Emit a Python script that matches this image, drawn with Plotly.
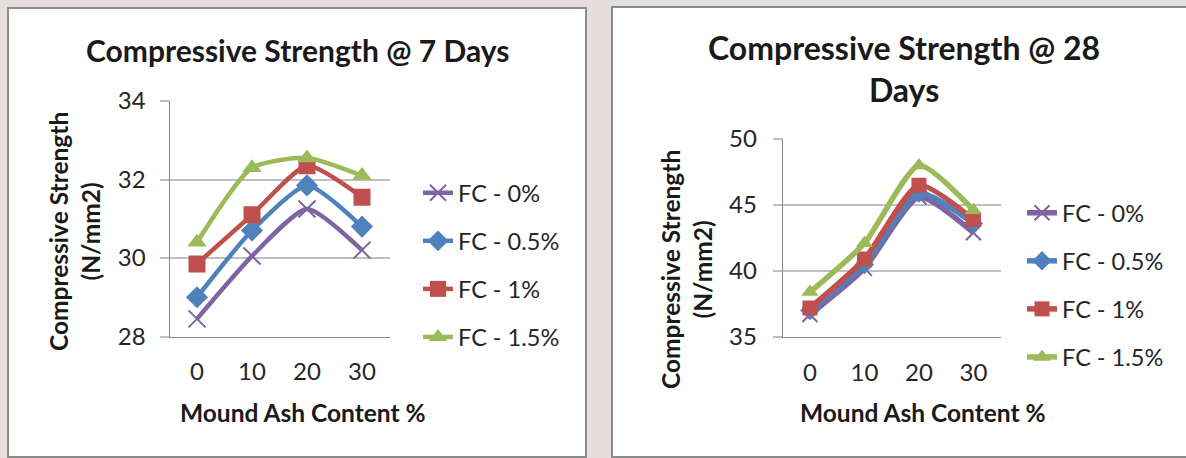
import plotly.graph_objects as go

# Mound ash content (%) on the category axis
ash_content = [0, 10, 20, 30]
series_names = ["FC - 0%", "FC - 0.5%", "FC - 1%", "FC - 1.5%"]

# Compressive strength (N/mm2) after 7 days of curing
strength_7d_fc0 = [28.45, 30.05, 31.25, 30.2]
strength_7d_fc05 = [29.0, 30.7, 31.85, 30.8]
strength_7d_fc1 = [29.85, 31.1, 32.35, 31.55]
strength_7d_fc15 = [30.4, 32.3, 32.55, 32.1]

# Compressive strength (N/mm2) after 28 days of curing
strength_28d_fc0 = [36.7, 40.2, 45.6, 42.9]
strength_28d_fc05 = [37.0, 40.5, 45.9, 43.6]
strength_28d_fc1 = [37.2, 40.9, 46.5, 43.9]
strength_28d_fc15 = [38.4, 42.1, 48.0, 44.6]

y_ticks_7d = [28, 30, 32, 34]
y_ticks_28d = [35, 40, 45, 50]

W, H = 1186, 458
FONT = "Lato"
colors = ["#8064A2", "#4F81BD", "#C0504D", "#9BBB59"]
symbols = ["x-thin", "diamond", "square", "triangle-up"]


def px_x(v):
    return v / W


def px_y(v):
    return 1 - v / H


fig = go.Figure()

data_7d = [strength_7d_fc0, strength_7d_fc05, strength_7d_fc1, strength_7d_fc15]
data_28d = [strength_28d_fc0, strength_28d_fc05, strength_28d_fc1, strength_28d_fc15]

for chart, (data, xa, ya, leg, msize, lw) in enumerate([
    (data_7d, "x", "y", "legend", 17, 4.5),
    (data_28d, "x2", "y2", "legend2", 15, 5.5),
]):
    for i, (name, vals) in enumerate(zip(series_names, data)):
        is_x = symbols[i] == "x-thin"
        fig.add_trace(go.Scatter(
            x=ash_content, y=vals, name=name,
            xaxis=xa, yaxis=ya, legend=leg,
            legendgroup=f"{leg}-{i}",
            mode="lines+markers",
            line=dict(color=colors[i], width=lw, shape="spline", smoothing=0.6),
            marker=dict(
                symbol=symbols[i], size=msize, color=colors[i],
                line=dict(color=colors[i], width=2 if is_x else 0),
            ),
        ))

tick_font = dict(family=FONT, size=24, color="#262626")

axis_common = dict(
    range=[-5, 35], tickvals=ash_content, showgrid=False, zeroline=False,
    showline=True, linecolor="#868686", linewidth=1, ticks="",
    tickfont=tick_font, ticklabelstandoff=14, fixedrange=True,
)
yaxis_common = dict(
    showgrid=True, gridcolor="#BFBFBF", gridwidth=2, zeroline=False,
    showline=True, linecolor="#868686", linewidth=1,
    ticks="outside", ticklen=9, tickcolor="#BFBFBF", tickwidth=2,
    tickfont=tick_font, fixedrange=True,
)

legend_font = dict(family=FONT, size=23.5, color="#262626")

fig.update_layout(
    width=W, height=H,
    margin=dict(l=0, r=0, t=0, b=0, autoexpand=False),
    paper_bgcolor="#E4DFDC",
    plot_bgcolor="rgba(0,0,0,0)",
    xaxis=dict(domain=[px_x(169.5), px_x(389.5)], anchor="y", **axis_common),
    yaxis=dict(domain=[px_y(336.5), px_y(101)], anchor="x", range=[28, 34],
               tickvals=y_ticks_7d, ticklabelstandoff=9, **yaxis_common),
    xaxis2=dict(domain=[px_x(782.7), px_x(1000.7)], anchor="y2", **axis_common),
    yaxis2=dict(domain=[px_y(337), px_y(139)], anchor="x2", range=[35, 50],
                tickvals=y_ticks_28d, ticklabelstandoff=11, **yaxis_common),
    legend=dict(
        x=px_x(418), y=px_y(171), xanchor="left", yanchor="top",
        font=legend_font, bgcolor="rgba(0,0,0,0)", tracegroupgap=14.5,
        itemclick=False,
    ),
    legend2=dict(
        x=px_x(1022), y=px_y(191), xanchor="left", yanchor="top",
        font=legend_font, bgcolor="rgba(0,0,0,0)", tracegroupgap=14.5,
        itemclick=False,
    ),
    showlegend=True,
)

# White chart panels with grey borders
fig.add_shape(type="rect", xref="paper", yref="paper", layer="below",
              x0=px_x(8), x1=px_x(586), y0=px_y(457), y1=px_y(8),
              fillcolor="white", line=dict(color="#8C8C8C", width=2))
fig.add_shape(type="rect", xref="paper", yref="paper", layer="below",
              x0=px_x(612), x1=px_x(1200), y0=px_y(457), y1=px_y(7),
              fillcolor="white", line=dict(color="#8C8C8C", width=2))

title_font = dict(family=FONT, size=30, color="#1A1A1A")
title_font_28d = dict(family=FONT, size=32, color="#1A1A1A")
axis_title_font = dict(family=FONT, size=24.5, color="#1A1A1A")


def note(text, x, y, font, angle=0):
    fig.add_annotation(text=text, x=px_x(x), y=px_y(y), xref="paper", yref="paper",
                       showarrow=False, font=font, textangle=angle,
                       xanchor="center", yanchor="middle", align="center")


note("<b>Compressive Strength @ 7 Days</b>", 297, 50, title_font)
note("<b>Compressive Strength @ 28<br>Days</b>", 904, 69, title_font_28d)
note("<b>Mound Ash Content %</b>", 303, 412, axis_title_font)
note("<b>Mound Ash Content %</b>", 923, 412, axis_title_font)
note("<b>Compressive Strength<br>(N/mm2)</b>", 75, 232, axis_title_font, -90)
note("<b>Compressive Strength<br>(N/mm2)</b>", 686, 270, axis_title_font, -90)

fig.write_html("out.html")
